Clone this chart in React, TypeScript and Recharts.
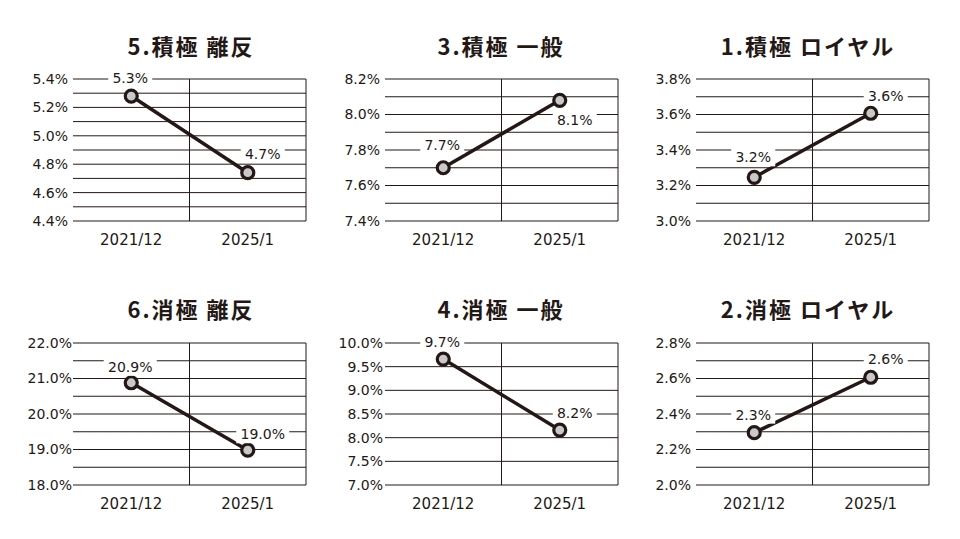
import React from 'react';
import { LineChart, Line, XAxis, YAxis, CartesianGrid, LabelList } from 'recharts';

// ---- data ----
const periods = ['2021/12', '2025/1'];

const titles = ['5.積極 離反', '3.積極 一般', '1.積極 ロイヤル', '6.消極 離反', '4.消極 一般', '2.消極 ロイヤル'];

const values5 = [5.28, 4.74];
const values3 = [7.7, 8.08];
const values1 = [3.246, 3.607];
const values6 = [20.88, 18.98];
const values4 = [9.66, 8.16];
const values2 = [2.295, 2.607];

const ticks5 = [4.4, 4.6, 4.8, 5.0, 5.2, 5.4];
const ticks3 = [7.4, 7.6, 7.8, 8.0, 8.2];
const ticks1 = [3.0, 3.2, 3.4, 3.6, 3.8];
const ticks6 = [18, 19, 20, 21, 22];
const ticks4 = [7.0, 7.5, 8.0, 8.5, 9.0, 9.5, 10.0];
const ticks2 = [2.0, 2.2, 2.4, 2.6, 2.8];

const grid5 = [4.4, 4.5, 4.6, 4.7, 4.8, 4.9, 5.0, 5.1, 5.2, 5.3, 5.4];
const grid3 = [7.4, 7.5, 7.6, 7.7, 7.8, 7.9, 8.0, 8.1, 8.2];
const grid1 = [3.0, 3.1, 3.2, 3.3, 3.4, 3.5, 3.6, 3.7, 3.8];
const grid6 = [18, 18.5, 19, 19.5, 20, 20.5, 21, 21.5, 22];
const grid4 = [7.0, 7.5, 8.0, 8.5, 9.0, 9.5, 10.0];
const grid2 = [2.0, 2.1, 2.2, 2.3, 2.4, 2.5, 2.6, 2.7, 2.8];

// ---- layout / style ----
const INK = '#231815';
const DOT_FILL = '#c9c9c9';
const COL_X = [0, 312, 623];
const ROW_Y = [60, 324];
const TITLE_Y = [45, 308];
const TITLE_CX = [191, 501, 808];
const CHART_W = 320;
const CHART_H = 200;

type Panel = {
  title: string;
  values: number[];
  ticks: number[];
  grid: number[];
  col: number;
  row: number;
  tickGap: number;
  labelDy: number[];
};

const panels: Panel[] = [
  { title: titles[0], values: values5, ticks: ticks5, grid: grid5, col: 0, row: 0, tickGap: 5, labelDy: [-18, -19] },
  { title: titles[1], values: values3, ticks: ticks3, grid: grid3, col: 1, row: 0, tickGap: 5, labelDy: [-23, 20] },
  { title: titles[2], values: values1, ticks: ticks1, grid: grid1, col: 2, row: 0, tickGap: 5, labelDy: [-20, -17] },
  { title: titles[3], values: values6, ticks: ticks6, grid: grid6, col: 0, row: 1, tickGap: 1, labelDy: [-16, -16] },
  { title: titles[4], values: values4, ticks: ticks4, grid: grid4, col: 1, row: 1, tickGap: 2, labelDy: [-17, -17] },
  { title: titles[5], values: values2, ticks: ticks2, grid: grid2, col: 2, row: 1, tickGap: 5, labelDy: [-18, -18] },
];

const makeLabel = (dys: number[]) => (props: any) => {
  const { x, y, value, index } = props;
  if (x == null || y == null) return null;
  const text = Number(value).toFixed(1) + '%';
  const w = text.length * 9 + 8;
  const h = 18;
  const cx = Number(x) + (index === 1 ? 15 : -1);
  const cy = Number(y) + dys[index];
  return (
    <g>
      <rect x={cx - w / 2} y={cy - h / 2} width={w} height={h} fill="#ffffff" />
      <text
        x={cx}
        y={cy}
        textAnchor="middle"
        dominantBaseline="central"
        fontFamily="DejaVu Sans"
        fontSize={14}
        fill={INK}
      >
        {text}
      </text>
    </g>
  );
};

const PanelChart = ({ p }: { p: Panel }) => {
  const data = periods.map((period, i) => ({ period, v: p.values[i] }));
  const left = COL_X[p.col];
  const top = ROW_Y[p.row];
  return (
    <>
      <div
        style={{
          position: 'absolute',
          left: TITLE_CX[p.col] - 150,
          width: 300,
          top: TITLE_Y[p.row] - 15,
          height: 30,
          lineHeight: '30px',
          textAlign: 'center',
          fontFamily: '"Noto Sans CJK JP", sans-serif',
          fontWeight: 700,
          fontSize: 22,
          letterSpacing: 2,
          color: INK,
          whiteSpace: 'nowrap',
        }}
      >
        {p.title}
      </div>
      <div style={{ position: 'absolute', left, top, width: CHART_W, height: CHART_H }}>
        <LineChart
          width={CHART_W}
          height={CHART_H}
          data={data}
          margin={{ top: 19, right: 14, bottom: 9, left: 0 }}
        >
          <CartesianGrid
            stroke={INK}
            strokeWidth={1}
            horizontalValues={p.grid}
            verticalCoordinatesGenerator={(args: any) => {
              const off = args && args.offset ? args.offset : { left: 73, width: CHART_W - 73 - 14 };
              return [off.left + off.width / 2, off.left + off.width];
            }}
          />
          <XAxis
            dataKey="period"
            type="category"
            scale="band"
            axisLine={false}
            tickLine={false}
            tickSize={0}
            tickMargin={13}
            height={30}
            interval={0}
            tick={{ fontSize: 15, fill: INK, fontFamily: 'DejaVu Sans' }}
          />
          <YAxis
            type="number"
            domain={[p.grid[0], p.grid[p.grid.length - 1]]}
            ticks={p.ticks}
            interval={0}
            width={73}
            axisLine={false}
            tickLine={false}
            tickSize={0}
            tickMargin={p.tickGap}
            tickFormatter={(v: number) => v.toFixed(1) + '%'}
            tick={{ fontSize: 14, fill: INK, fontFamily: 'DejaVu Sans' }}
          />
          <Line
            type="linear"
            dataKey="v"
            stroke={INK}
            strokeWidth={3.5}
            dot={{ r: 6, fill: DOT_FILL, stroke: INK, strokeWidth: 3.2 }}
            activeDot={false}
            isAnimationActive={false}
          >
            <LabelList dataKey="v" content={makeLabel(p.labelDy)} />
          </Line>
        </LineChart>
      </div>
    </>
  );
};

export default function App() {
  return (
    <div
      style={{
        position: 'absolute',
        left: 0,
        top: 0,
        width: 960,
        height: 539,
        background: '#ffffff',
        overflow: 'hidden',
      }}
    >
      {panels.map((p) => (
        <PanelChart key={p.title} p={p} />
      ))}
    </div>
  );
}
